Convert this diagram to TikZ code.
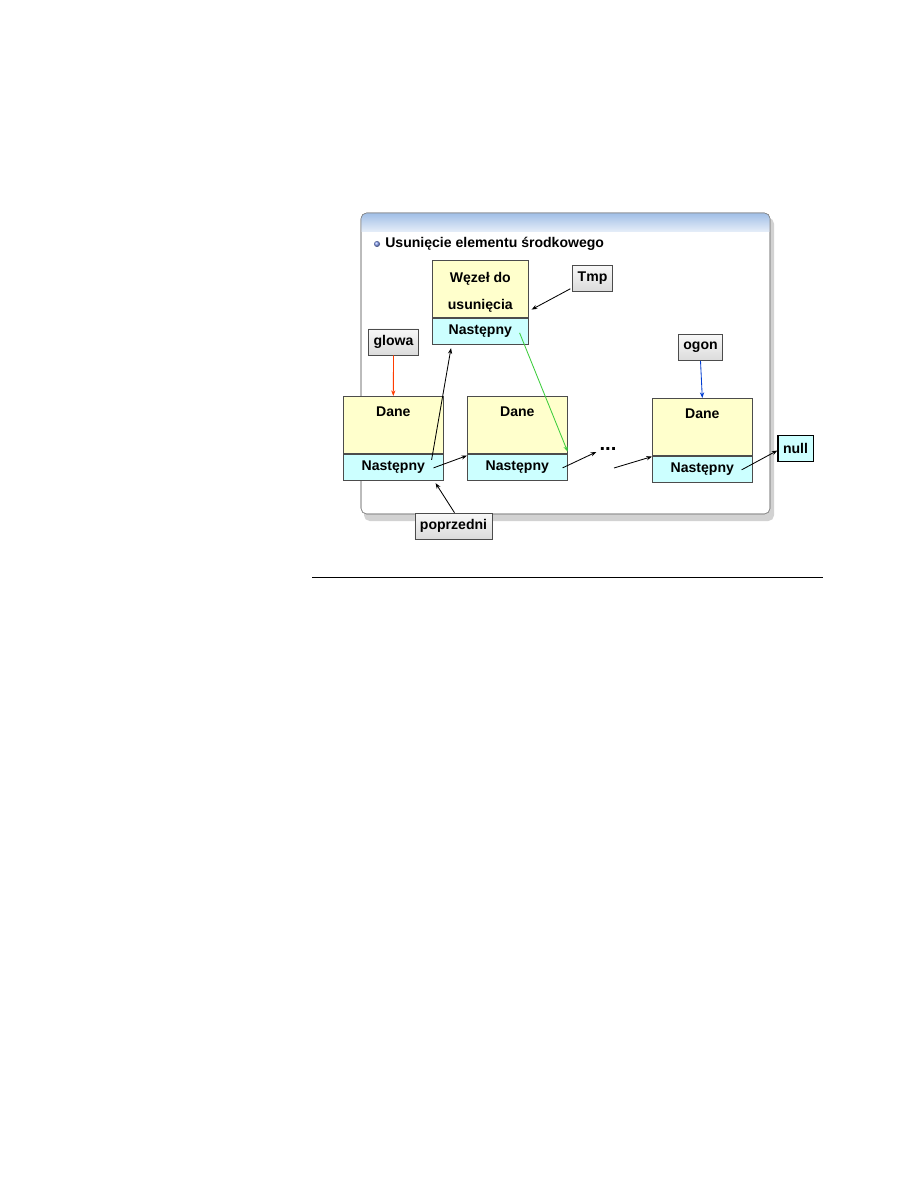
\documentclass[tikz,border=0pt]{standalone}
\usepackage{fontspec}
\setmainfont{Liberation Sans}
\usetikzlibrary{arrows.meta,positioning}
\definecolor{ndyellow}{RGB}{255,255,204}
\definecolor{ndcyan}{RGB}{204,255,255}
\definecolor{ptred}{RGB}{255,60,0}
\definecolor{ptgreen}{RGB}{60,205,60}
\definecolor{ptblue}{RGB}{0,60,210}
\definecolor{hdblue}{RGB}{160,190,230}
\definecolor{frgray}{RGB}{140,140,140}

\begin{document}
\begin{tikzpicture}[x=0.025cm, y=-0.025cm, font=\fontsize{10}{12}\selectfont\bfseries,
  dataprt/.style={draw=black!70, fill=ndyellow, minimum width=2.5cm, inner sep=0pt,
    text height=0.5cm, text depth=0.925cm, anchor=north west},
  nextprt/.style={draw=black!70, fill=ndcyan, minimum width=2.5cm, minimum height=0.65cm, inner sep=0pt},
  lblbox/.style={draw=black!70, top color=gray!6, bottom color=gray!28, inner xsep=3.6pt,
    inner ysep=0pt, minimum height=0.65cm},
  ptr/.style={-{Stealth[length=4pt,width=3pt]}, semithick}]
\useasboundingbox (0,0) rectangle (918,1188);

% Slide frame
\fill[gray!35, rounded corners=4pt] (364,218) rectangle (774,521);
\draw[frgray, fill=white, rounded corners=4pt] (361,213) rectangle (770,514);
\begin{scope}
  \clip[rounded corners=4pt] (361,213) rectangle (770,514);
  \fill[top color=hdblue, bottom color=hdblue!25] (361,213) rectangle (770,232);
\end{scope}
\draw[frgray, rounded corners=4pt] (361,213) rectangle (770,514);

% Title
\shade[ball color=hdblue!80!blue] (377,244) circle (3);
\node[anchor=west, inner sep=0pt] (title) at (385,244) {Usunięcie elementu środkowego};

% Node to remove
\node[dataprt, minimum width=2.4cm, text height=1.225cm, text depth=0.2cm, align=center,
  font=\fontsize{10}{19}\selectfont\bfseries] (wz) at (432,260) {Węzeł do\\usunięcia};
\node[nextprt, minimum width=2.4cm, below=0pt of wz] (wn) {Następny};

% List nodes
\node[dataprt] (n1) at (343,396) {Dane};
\node[nextprt, below=0pt of n1] (n1n) {Następny};
\node[dataprt] (n2) at (467,396) {Dane};
\node[nextprt, below=0pt of n2] (n2n) {Następny};
\node[dataprt] (n3) at (652,398) {Dane};
\node[nextprt, below=0pt of n3] (n3n) {Następny};
\node[font=\Large\bfseries, inner sep=0pt] (dots) at (608,449) {...};
\coordinate (gap) at (614,468);

% Pointers
\node[lblbox] (glowa) at (393.5,342) {glowa};
\node[lblbox] (tmp) at (592.5,278.5) {Tmp};
\node[lblbox] (ogon) at (700.5,347.5) {ogon};
\node[lblbox] (pop) at (453.5,526) {poprzedni};
\node[draw=black, thick, fill=ndcyan, inner xsep=3.6pt, inner ysep=0pt, minimum height=0.66cm]
  (null) at (795.5,448.5) {null};

% Connecting arrows
\draw[ptr, ptred] (glowa.south) -- (n1.north);
\draw[ptr, ptblue] (ogon.south) -- (n3.north);
\draw[ptr] ([shift={(-2,-3)}]tmp.south west) -- ([shift={(3,-8)}]wz.south east);
\draw[ptr] ([shift={(-12,-7)}]n1n.east) -- ([shift={(19,4)}]wn.south west);
\draw[ptr] ([shift={(-10,1)}]n1n.east) -- ([shift={(0,2)}]n2n.north west);
\draw[ptr, ptgreen] ([shift={(-9,2)}]wn.east) -- ([shift={(0,-2)}]n2n.north east);
\draw[ptr] ([shift={(-5,1)}]n2n.east) -- ([shift={(-3,3)}]dots.west);
\draw[ptr] (gap) -- ([shift={(0,1)}]n3n.north west);
\draw[ptr] ([shift={(-11,1)}]n3n.east) -- ([shift={(0,2)}]null.west);
\draw[ptr] ([shift={(1,0)}]pop.north) -- ([shift={(-8,3)}]n1n.south east);

% Rule below the slide
\draw[semithick] (312,577) -- (823,577);

\end{tikzpicture}
\end{document}
